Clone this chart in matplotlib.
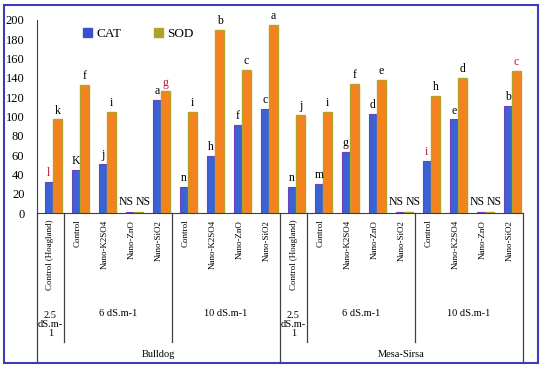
import matplotlib
matplotlib.use("Agg")
import matplotlib.pyplot as plt
from matplotlib.patches import Patch, Rectangle
from matplotlib.lines import Line2D
import numpy as np

plt.rcParams["font.family"] = ["Liberation Serif", "DejaVu Serif"]

treatments = ["Control (Hoagland)", "Control", "Nano-K2SO4", "Nano-ZnO", "Nano-SiO2",
              "Control", "Nano-K2SO4", "Nano-ZnO", "Nano-SiO2"] * 2
cultivars = ["Bulldog", "Mesa-Sirsa"]
salinity = ["2.5\ndS.m-\n1", "6 dS.m-1", "10 dS.m-1"]

cat = [32, 45, 51, 1.5, 117, 27, 59, 91, 108,
       27, 30, 63, 103, 1.5, 54, 97, 1.5, 111]
sod = [97, 133, 105, 1.5, 126, 105, 190, 148, 195,
       102, 105, 134, 138, 1.5, 121, 140, 1.5, 147]
cat_letters = ["l", "K", "j", "NS", "a", "n", "h", "f", "c",
               "n", "m", "g", "d", "NS", "i", "e", "NS", "b"]
sod_letters = ["k", "f", "i", "NS", "g", "i", "b", "c", "a",
               "j", "i", "f", "e", "NS", "h", "d", "NS", "c"]
red_cat = {0, 14}
red_sod = {4, 17}

fig = plt.figure(figsize=(5.5, 3.8), dpi=100)
W, H = 550, 380
ax = fig.add_axes([37 / W, (H - 213) / H, 486 / W, 193 / H])

x = np.arange(len(cat))
bw = 0.32
off = 0.1
ax.bar(x + off - bw / 2, cat, bw, color="#3a62d4", edgecolor="#6a44b8", linewidth=0.8)
ax.bar(x + off + bw / 2, sod, bw, color="#f5821f", edgecolor="#b4a22a", linewidth=1.0)

for i in range(len(cat)):
    if cat_letters[i] == "NS":
        ax.text(x[i] - 0.2, 5, "NS", ha="center", va="bottom", fontsize=8.5)
        ax.text(x[i] + 0.42, 5, "NS", ha="center", va="bottom", fontsize=8.5)
        continue
    ax.text(x[i] + off - bw / 2, cat[i] + 3, cat_letters[i], ha="center", va="bottom",
            fontsize=8.5, color="#c0143c" if i in red_cat else "black")
    ax.text(x[i] + off + bw / 2, sod[i] + 3, sod_letters[i], ha="center", va="bottom",
            fontsize=8.5, color="#c0143c" if i in red_sod else "black")

ax.set_xlim(-0.5, 17.5)
ax.set_ylim(0, 200)
ax.set_yticks(np.arange(0, 201, 20))
ax.tick_params(axis="y", length=0, pad=9, labelsize=9)
ax.set_xticks([])
for s in ["top", "right"]:
    ax.spines[s].set_visible(False)
ax.spines["left"].set_color("#404040")
ax.spines["bottom"].set_color("#404040")

tr = ax.get_xaxis_transform()
for i, t in enumerate(treatments):
    ax.text(x[i], -0.035, t, rotation=90, ha="center", va="top", fontsize=6.5, transform=tr)

# grouping lines below the axis
for b in [0.5, 4.5, 9.5, 13.5]:
    ax.add_line(Line2D([b, b], [0, -0.668], transform=tr, color="#404040", lw=0.9, clip_on=False))
for b in [-0.5, 8.5, 17.5]:
    ax.add_line(Line2D([b, b], [0, -0.777], transform=tr, color="#404040", lw=0.9, clip_on=False))

for k in range(2):
    base = 9 * k
    ax.text(base, -0.58, salinity[0], ha="center", va="center", fontsize=7.5,
            transform=tr, linespacing=1.0)
    ax.text(base + 2.5, -0.52, salinity[1], ha="center", va="center", fontsize=7.5, transform=tr)
    ax.text(base + 6.5, -0.52, salinity[2], ha="center", va="center", fontsize=7.5, transform=tr)
    ax.text(base + 4, -0.735, cultivars[k], ha="center", va="center", fontsize=7.5, transform=tr)

handles = [Patch(color="#3a4fd0"), Patch(color="#b0a02c")]
ax.legend(handles, ["CAT", "SOD"], loc="upper left", bbox_to_anchor=(0.07, 1.02), ncol=2,
          frameon=False, fontsize=9.5, handlelength=0.7, handleheight=0.7,
          handletextpad=0.3, columnspacing=2.5)

fig.patches.append(Rectangle((4 / W, (H - 363) / H), 534 / W, 358 / H, transform=fig.transFigure,
                             fill=False, edgecolor="#3c3cb8", linewidth=1.5))

fig.savefig("out.png", dpi=100)
